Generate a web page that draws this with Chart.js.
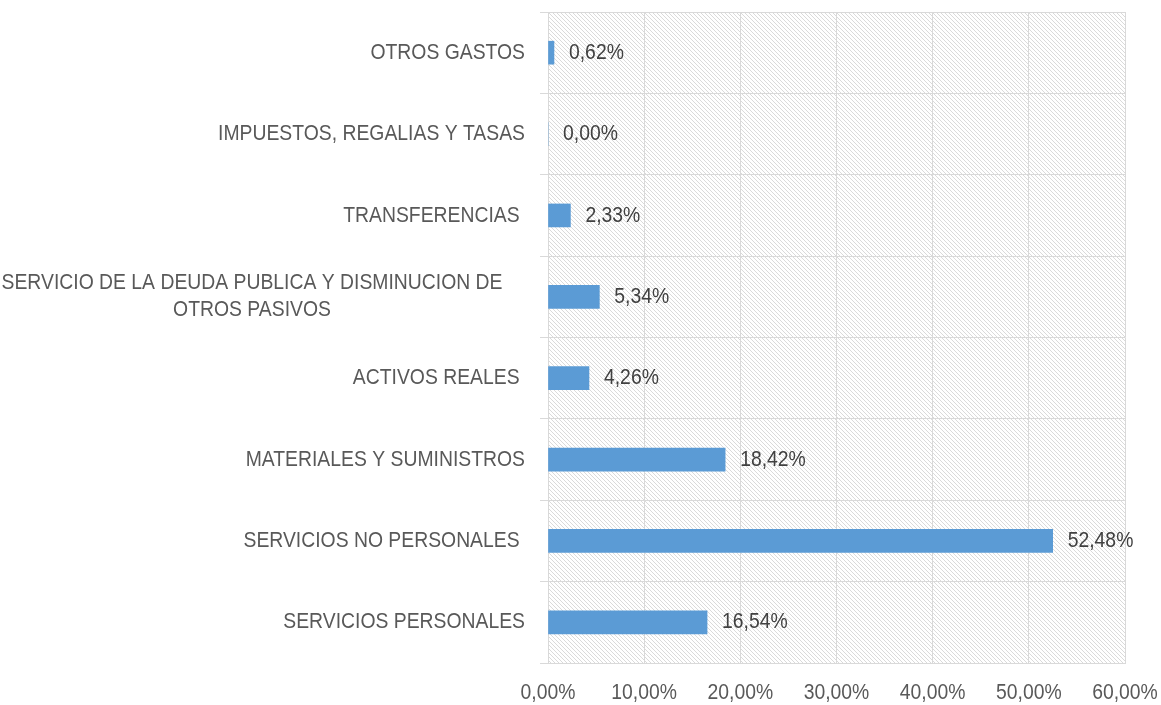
<!DOCTYPE html>
<html>
<head>
<meta charset="utf-8">
<script src="https://cdn.jsdelivr.net/npm/chart.js@4"></script>
<style>
html,body{margin:0;padding:0;background:#fff;}
#wrap{width:1161px;height:705px;position:relative;}
</style>
</head>
<body>
<div id="wrap"><canvas id="c" width="1161" height="705"></canvas></div>
<script>
const categories = [
  ["OTROS GASTOS"],
  ["IMPUESTOS, REGALIAS Y TASAS"],
  ["TRANSFERENCIAS "],
  ["SERVICIO DE LA DEUDA PUBLICA Y DISMINUCION DE", "OTROS PASIVOS"],
  ["ACTIVOS REALES "],
  ["MATERIALES Y SUMINISTROS"],
  ["SERVICIOS NO PERSONALES "],
  ["SERVICIOS PERSONALES"]
];
const values = [0.62, 0.00, 2.33, 5.34, 4.26, 18.42, 52.48, 16.54];
const xTicks = [0, 10, 20, 30, 40, 50, 60];

const FONT = "'Liberation Sans', Arial, sans-serif";
const FSIZE = 22;
const SX = 0.88; // horizontal condensing to imitate a narrow face
const fmt = v => v.toFixed(2).replace('.', ',') + '%';

function narrowText(ctx, text, x, y, align){
  ctx.save();
  ctx.translate(x, y);
  ctx.scale(SX, 1);
  ctx.textAlign = align;
  ctx.fillText(text, 0, 0);
  ctx.restore();
}

function makePattern(ctx){
  const p = document.createElement('canvas');
  p.width = 4; p.height = 4;
  const g = p.getContext('2d');
  g.fillStyle = '#ffffff';
  g.fillRect(0,0,4,4);
  g.fillStyle = '#dadada';
  for (let i=0;i<4;i++){ g.fillRect(i,i,1,1); }
  return ctx.createPattern(p,'repeat');
}

const hatchPlugin = {
  id: 'hatch',
  beforeDraw(chart){
    const {ctx, chartArea:a} = chart;
    ctx.save();
    ctx.fillStyle = makePattern(ctx);
    ctx.fillRect(a.left, a.top, a.right-a.left, a.bottom-a.top);
    ctx.restore();
  }
};

const labelsPlugin = {
  id: 'customLabels',
  afterDraw(chart){
    const {ctx} = chart;
    const ys = chart.scales.y;
    const xs = chart.scales.x;
    ctx.save();
    ctx.font = FSIZE + 'px ' + FONT;
    ctx.textBaseline = 'middle';
    // category labels
    ctx.fillStyle = '#595959';
    const lh = 27;
    categories.forEach((lines, i) => {
      const y = ys.getPixelForTick(i);
      if (lines.length === 1){
        narrowText(ctx, lines[0], 525, y, 'right');
      } else {
        const cx = 252;
        const top = y - (lines.length-1)*lh/2;
        lines.forEach((l, k) => narrowText(ctx, l, cx, top + k*lh, 'center'));
      }
    });
    // x tick labels
    xTicks.forEach(v => {
      narrowText(ctx, fmt(v), xs.getPixelForValue(v), xs.top + 30, 'center');
    });
    // value labels
    const meta = chart.getDatasetMeta(0);
    ctx.fillStyle = '#404040';
    meta.data.forEach((bar, i) => {
      narrowText(ctx, fmt(values[i]), bar.x + 15, bar.y, 'left');
    });
    ctx.restore();
  }
};

new Chart(document.getElementById('c'), {
  type: 'bar',
  data: {
    labels: categories.map(l => l.join(' ')),
    datasets: [{
      data: values,
      backgroundColor: '#5b9bd5',
      borderWidth: 0,
      barThickness: 23
    }]
  },
  options: {
    indexAxis: 'y',
    responsive: false,
    animation: false,
    devicePixelRatio: 1,
    layout: { padding: { top: 12, right: 36, left: 0, bottom: 0 } },
    plugins: { legend: { display: false }, tooltip: { enabled: false } },
    scales: {
      x: {
        min: 0, max: 60,
        afterBuildTicks(scale){ scale.ticks = xTicks.map(v => ({value: v})); },
        afterFit(scale){ scale.height = 42; },
        grid: { color: '#d9d9d9', lineWidth: 1, drawTicks: false },
        border: { color: '#d9d9d9' },
        ticks: { display: false }
      },
      y: {
        afterFit(scale){ scale.width = 548; },
        grid: { color: '#d9d9d9', lineWidth: 1, drawTicks: true, tickLength: 8, offset: true },
        border: { color: '#d9d9d9' },
        ticks: { display: false }
      }
    }
  },
  plugins: [hatchPlugin, labelsPlugin]
});
</script>
</body>
</html>
